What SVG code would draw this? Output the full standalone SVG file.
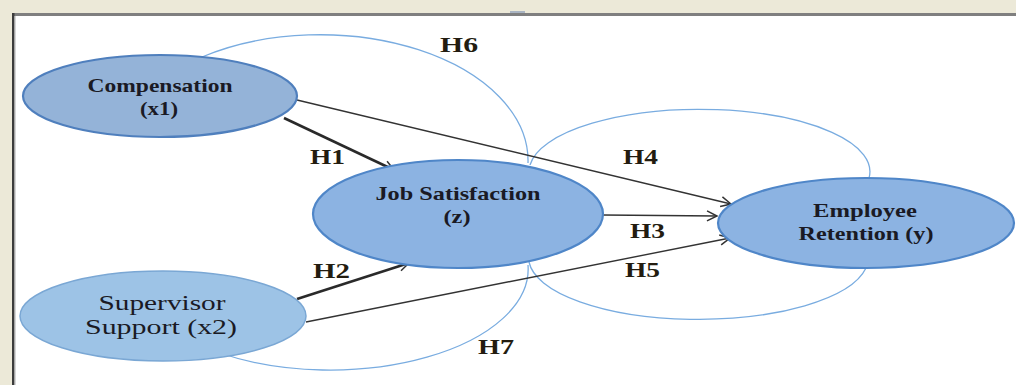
<svg xmlns="http://www.w3.org/2000/svg" width="1016" height="385" viewBox="0 0 1016 385">
<style>
.node-t{font-family:"Liberation Serif","Times New Roman",serif;font-weight:bold;font-size:19px;fill:#1a1a24;text-anchor:middle}
.node-n{font-family:"Liberation Serif","Times New Roman",serif;font-size:22px;fill:#1a1a24;text-anchor:middle}
.lbl{font-family:"Liberation Serif","Times New Roman",serif;font-weight:bold;font-size:20px;fill:#231c10}
.arc{fill:none;stroke:#79ace0;stroke-width:1.3}
.ln{fill:none;stroke:#333;stroke-width:1.4;marker-end:url(#ah)}
.ln-b{fill:none;stroke:#2a2a2a;stroke-width:2.6;marker-end:url(#ah)}
</style>
<defs>
<marker id="ah" markerUnits="userSpaceOnUse" markerWidth="14" markerHeight="14" refX="12" refY="7" orient="auto">
<path d="M2,2 L12,7 L2,12" fill="none" stroke="#333" stroke-width="1.5"/>
</marker>
</defs>
<rect x="0" y="0" width="1016" height="385" fill="#ece9d8"/>
<rect x="12" y="13" width="1004" height="372" fill="#ffffff"/>
<rect x="12" y="13" width="1004" height="3" fill="#7f7f7f"/>
<rect x="12" y="13" width="2.5" height="372" fill="#3c3c3c"/>
<rect x="14.5" y="16" width="1" height="369" fill="#b0b0b0"/>
<rect x="510" y="11" width="15" height="2" fill="#a9b4c2"/>

<g id="connectors">
<path class="arc" d="M202,57 A208,126 0 0 1 528,163"/>
<path class="arc" d="M530,165 A170,62 0 0 1 869,178"/>
<path class="arc" d="M529,262 A170,62 0 0 0 866,268"/>
<path class="arc" d="M220,353 A198,101 0 0 0 528,265"/>
<line class="ln-b" x1="284" y1="118" x2="394" y2="170"/>
<line class="ln" x1="297" y1="100" x2="731" y2="204"/>
<line class="ln" x1="603" y1="215" x2="717" y2="216"/>
<line class="ln-b" x1="297" y1="299" x2="409" y2="263"/>
<line class="ln" x1="306" y1="322" x2="730" y2="238"/>
</g>

<g id="compensation">
<ellipse cx="160" cy="96" rx="137" ry="41" fill="#94b3d8" stroke="#4f7fbd" stroke-width="2.2"/>
<text class="node-t" x="160" y="92" textLength="145" lengthAdjust="spacingAndGlyphs">Compensation</text>
<text class="node-t" x="159" y="115" textLength="38" lengthAdjust="spacingAndGlyphs">(x1)</text>
</g>

<g id="job-satisfaction">
<ellipse cx="458" cy="214" rx="145" ry="54" fill="#8cb3e2" stroke="#4f86c8" stroke-width="2.2"/>
<text class="node-t" x="458" y="200" textLength="165" lengthAdjust="spacingAndGlyphs">Job Satisfaction</text>
<text class="node-t" x="457" y="223" textLength="27" lengthAdjust="spacingAndGlyphs">(z)</text>
</g>

<g id="employee-retention">
<ellipse cx="866" cy="223" rx="148" ry="45" fill="#8cb3e2" stroke="#4f86c8" stroke-width="2.2"/>
<text class="node-t" x="865" y="217" textLength="104" lengthAdjust="spacingAndGlyphs">Employee</text>
<text class="node-t" x="866" y="240" textLength="135" lengthAdjust="spacingAndGlyphs">Retention (y)</text>
</g>

<g id="supervisor-support">
<ellipse cx="163" cy="316" rx="143" ry="45" fill="#9dc3e6" stroke="#7aa7d4" stroke-width="1.5"/>
<text class="node-n" x="162" y="310" textLength="127" lengthAdjust="spacingAndGlyphs">Supervisor</text>
<text class="node-n" x="161" y="334" textLength="152" lengthAdjust="spacingAndGlyphs">Support (x2)</text>
</g>

<g id="labels">
<text class="lbl" x="440" y="52" textLength="38" lengthAdjust="spacingAndGlyphs">H6</text>
<text class="lbl" x="310" y="164" textLength="35" lengthAdjust="spacingAndGlyphs">H1</text>
<text class="lbl" x="623" y="164" textLength="35" lengthAdjust="spacingAndGlyphs">H4</text>
<text class="lbl" x="630" y="238" textLength="35" lengthAdjust="spacingAndGlyphs">H3</text>
<text class="lbl" x="313" y="278" textLength="37" lengthAdjust="spacingAndGlyphs">H2</text>
<text class="lbl" x="625" y="277" textLength="35" lengthAdjust="spacingAndGlyphs">H5</text>
<text class="lbl" x="478" y="354" textLength="36" lengthAdjust="spacingAndGlyphs">H7</text>
</g>
</svg>
